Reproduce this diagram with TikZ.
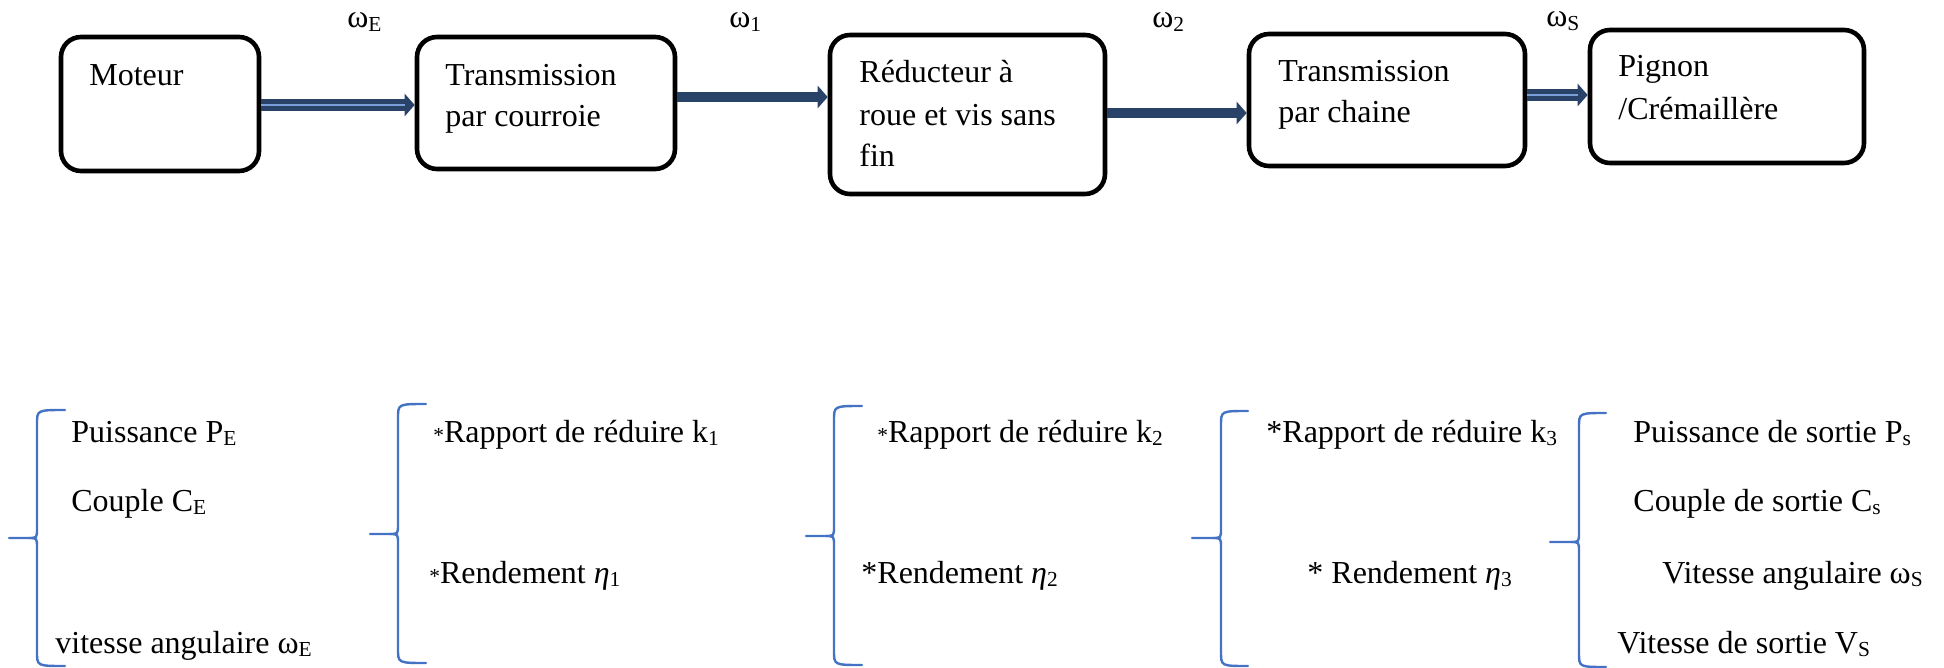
\documentclass[tikz,border=0pt]{standalone}
\usepackage{fontspec}
\setmainfont{Liberation Serif}
\usetikzlibrary{arrows.meta}

\definecolor{flowblue}{RGB}{40,66,104}
\definecolor{coreblue}{RGB}{120,160,215}
\definecolor{bracecol}{RGB}{68,114,196}

% lowered, reduced index (Word-style subscript)
\newcommand{\sbs}[1]{\raisebox{-0.12em}{\fontsize{10.7pt}{11pt}\selectfont #1}}
% reduced bullet star
\newcommand{\tinystar}{{\fontsize{10.7pt}{11pt}\selectfont *}}
% left curly brace: hook end x, spine x, tip x, top y, tip y, bottom y
\newcommand{\drawbrace}[6]{%
  \draw[bracepath] (#1,#4) .. controls (#2,#4) .. (#2,#4+14)
    -- (#2,#5-10) .. controls (#2,#5) .. (#2-8,#5) -- (#3,#5);
  \draw[bracepath] (#2-8,#5) .. controls (#2,#5) .. (#2,#5+10)
    -- (#2,#6-14) .. controls (#2,#6) .. (#1,#6);}

\begin{document}
\begin{tikzpicture}[x=0.5pt,y=-0.5pt,
  blk/.style={draw=black, line width=2.3pt, rounded corners=10pt, inner sep=0pt},
  txt/.style={anchor=base west, inner sep=0pt, font=\fontsize{16pt}{19pt}\selectfont},
  flow/.style={draw=flowblue, line width=#1, -{Triangle[length=5pt,width=11pt]}},
  flow/.default=5pt,
  core/.style={draw=coreblue, line width=1.1pt},
  bracepath/.style={draw=bracecol, line width=1.2pt, line cap=round}]

\useasboundingbox (0,0) rectangle (1944,668);

% chain of blocks
\node[blk, minimum width=99pt,   minimum height=67pt]   (moteur) at (160,104)    {};
\node[blk, minimum width=129pt,  minimum height=66pt]   (trans1) at (546,103)    {};
\node[blk, minimum width=137.5pt,minimum height=79.5pt] (reduc)  at (967.5,114.5){};
\node[blk, minimum width=138pt,  minimum height=66pt]   (trans2) at (1387,100)   {};
\node[blk, minimum width=137pt,  minimum height=66.5pt] (pignon) at (1727,96.5)  {};

% block captions
\node[txt] (tM)  at (89,86)    {Moteur};
\node[txt] (tT1) at (445,86)   {Transmission};
\node[txt] (tT2) at (445,127)  {par courroie};
\node[txt] (tR1) at (859,83)   {Réducteur à};
\node[txt] (tR2) at (859,126)  {roue et vis sans};
\node[txt] (tR3) at (859,167)  {fin};
\node[txt] (tC1) at (1278,82)  {Transmission};
\node[txt] (tC2) at (1278,123) {par chaine};
\node[txt] (tP1) at (1618,77)  {Pignon};
\node[txt] (tP2) at (1618,120) {/Crémaillère};

% shaft speeds
\node[txt] (wE) at (347,28)  {ω\sbs{E}};
\node[txt] (w1) at (729,28)  {ω\sbs{1}};
\node[txt] (w2) at (1152,28) {ω\sbs{2}};
\node[txt] (wS) at (1546,27) {ω\sbs{S}};

% power flow arrows
\draw[flow=6pt] (moteur.east |- 0,105) -- (trans1.west |- 0,105);
\draw[core] (moteur.east |- 0,105) -- ([xshift=-5pt]trans1.west |- 0,105);
\draw[flow] (trans1.east |- 0,97) -- (reduc.west |- 0,97);
\draw[flow] (reduc.east |- 0,113) -- (trans2.west |- 0,113);
\draw[flow=6pt] (trans2.east |- 0,95) -- (pignon.west |- 0,95);
\draw[core] (trans2.east |- 0,95) -- ([xshift=-5pt]pignon.west |- 0,95);

% braces
\drawbrace{65}{37}{9}{410}{538}{666}
\drawbrace{426}{398}{370}{404}{534}{663}
\drawbrace{862}{834}{806}{406}{536}{665}
\drawbrace{1248}{1221}{1192}{411}{538}{666}
\drawbrace{1606}{1579}{1550}{413}{542}{667}

% input quantities
\node[txt] (pe) at (71,442) {Puissance P\sbs{E}};
\node[txt] (ce) at (71,511) {Couple C\sbs{E}};
\node[txt] (ve) at (55,653) {vitesse angulaire ω\sbs{E}};

% stage 1
\node[txt] (k1) at (433,442) {\tinystar Rapport de réduire k\sbs{1}};
\node[txt] (r1) at (429,583) {\tinystar Rendement \textit{η}\sbs{1}};

% stage 2
\node[txt] (k2) at (877,442) {\tinystar Rapport de réduire k\sbs{2}};
\node[txt] (r2) at (861,583) {*Rendement \textit{η}\sbs{2}};

% stage 3
\node[txt] (k3) at (1266,442) {*Rapport de réduire k\sbs{3}};
\node[txt] (r3) at (1307,583) {* Rendement \textit{η}\sbs{3}};

% output quantities
\node[txt] (ps) at (1633,442) {Puissance de sortie P\sbs{s}};
\node[txt] (cs) at (1633,511) {Couple de sortie C\sbs{s}};
\node[txt] (ws) at (1662,583) {Vitesse angulaire ω\sbs{S}};
\node[txt] (vs) at (1617,653) {Vitesse de sortie V\sbs{S}};
\end{tikzpicture}
\end{document}
